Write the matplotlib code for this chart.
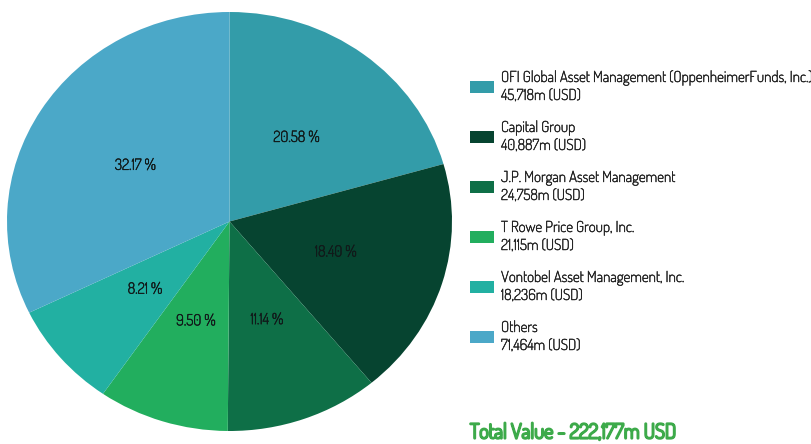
import matplotlib
matplotlib.use("Agg")
import matplotlib.pyplot as plt
import matplotlib.patheffects as pe
from matplotlib.patches import Rectangle

names = ["OFI Global Asset Management (OppenheimerFunds, Inc.)",
         "Capital Group",
         "J.P. Morgan Asset Management",
         "T Rowe Price Group, Inc.",
         "Vontobel Asset Management, Inc.",
         "Others"]
values = [45718, 40887, 24758, 21115, 18236, 71464]
colors = ["#339CA9", "#064430", "#0E6F47", "#22AE5E", "#22B0A2", "#4BA8C8"]
total_value = 222177

plt.rcParams['font.family'] = ['Dosis', 'Lato', 'DejaVu Sans']

W, H = 812, 444
fig = plt.figure(figsize=(W / 100, H / 100), dpi=100)

l, r, t, b = 7, 452, 12, 431
ax = fig.add_axes([l / W, 1 - b / H, (r - l) / W, (b - t) / H])
wedges, texts, autotexts = ax.pie(values, colors=colors, startangle=90, counterclock=False,
                                  autopct='%.2f %%', pctdistance=0.5,
                                  textprops=dict(fontsize=11, color="#111a1a"),
                                  wedgeprops=dict(linewidth=0))
for at in autotexts:
    at.set_path_effects([pe.withStroke(linewidth=0.4, foreground="#111a1a")])
ax.set_aspect('auto')
ax.set_xlim(-1, 1)
ax.set_ylim(-1, 1)
ax.axis('off')

thin = [pe.withStroke(linewidth=0.35, foreground="#222222")]
y0 = 78
for i, (n, v, c) in enumerate(zip(names, values, colors)):
    y = y0 + 50 * i
    fig.patches.append(Rectangle((470 / W, 1 - (y + 15) / H), 24 / W, 12 / H,
                                 transform=fig.transFigure, facecolor=c, edgecolor='none'))
    fig.text(501 / W, 1 - y / H, n, fontsize=10.9, color="#222222", va='center', ha='left',
             path_effects=thin)
    fig.text(501 / W, 1 - (y + 18) / H, f"{v:,}m (USD)", fontsize=10.9, color="#222222",
             va='center', ha='left', path_effects=thin)

fig.text(470 / W, 1 - 433 / H, f"Total Value - {total_value:,}m USD", fontsize=14.8,
         color="#3DAA4A", va='center', ha='left',
         path_effects=[pe.withStroke(linewidth=1.6, foreground="#3DAA4A")])

fig.savefig("out.png", dpi=100, facecolor='white')
